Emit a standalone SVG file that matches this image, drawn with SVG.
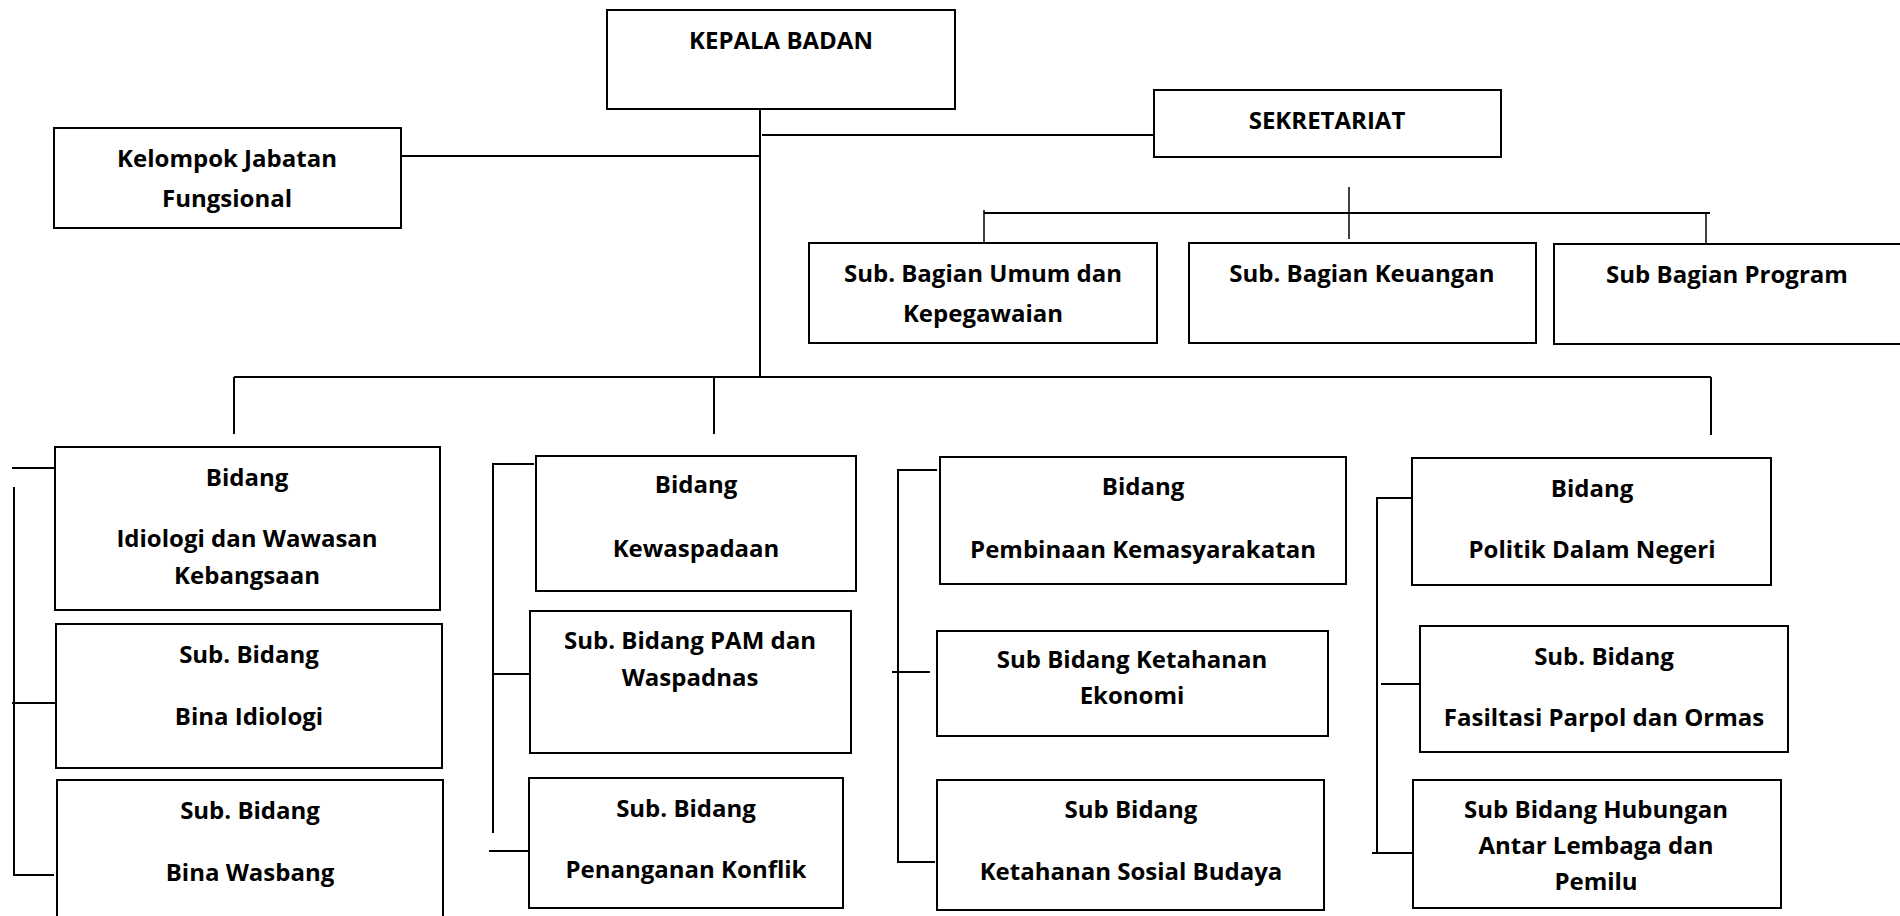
<svg xmlns="http://www.w3.org/2000/svg" width="1900" height="916" viewBox="0 0 1900 916">
<style>
.box{fill:#fff;stroke:#000;stroke-width:2}
.ln{stroke:#000;stroke-width:2;fill:none}
.thin{stroke:#000;stroke-width:1.5;fill:none}
.t{font-family:"Open Sans","Liberation Sans",sans-serif;font-weight:700;font-size:24px;text-anchor:middle;fill:#000}
</style>
<rect width="1900" height="916" fill="#fff"/>
<g id="connectors">
<path class="ln" d="M760 108 V378"/>
<path class="ln" d="M401 156 H761"/>
<path class="ln" d="M762 135 H1158"/>
<path class="thin" d="M1349 187 V239"/>
<path class="ln" d="M984 213 H1710"/>
<path class="thin" d="M984 210 V243"/>
<path class="thin" d="M1706 213 V243"/>
<path class="ln" d="M234 377 H1711"/>
<path class="ln" d="M234 377 V434"/>
<path class="ln" d="M714 377 V434"/>
<path class="ln" d="M1711 377 V435"/>
<path class="ln" d="M12 468 H59"/>
<path class="ln" d="M14 487 V875 H54"/>
<path class="ln" d="M12 703 H55"/>
<path class="ln" d="M534 464 H493 V833"/>
<path class="ln" d="M494 674 H531"/>
<path class="ln" d="M489 851 H528"/>
<path class="ln" d="M937 470 H898 V862 H935"/>
<path class="ln" d="M892 672 H930"/>
<path class="ln" d="M1412 498 H1377 V853"/>
<path class="ln" d="M1381 684 H1420"/>
<path class="ln" d="M1372 853 H1412"/>
</g>
<g id="kepala"><rect class="box" x="607" y="10" width="348" height="99"/><text class="t" x="781" y="49">KEPALA BADAN</text></g>
<g id="kelompok"><rect class="box" x="54" y="128" width="347" height="100"/><text class="t" x="227" y="167">Kelompok Jabatan</text><text class="t" x="227" y="207">Fungsional</text></g>
<g id="sekretariat"><rect class="box" x="1154" y="90" width="347" height="67"/><text class="t" x="1327" y="129">SEKRETARIAT</text></g>
<g id="umum"><rect class="box" x="809" y="243" width="348" height="100"/><text class="t" x="983" y="282">Sub. Bagian Umum dan</text><text class="t" x="983" y="322">Kepegawaian</text></g>
<g id="keuangan"><rect class="box" x="1189" y="243" width="347" height="100"/><text class="t" x="1362" y="282">Sub. Bagian Keuangan</text></g>
<g id="program"><rect class="box" x="1554" y="244" width="360" height="100"/><text class="t" x="1727" y="283">Sub Bagian Program</text></g>
<g id="bidang-idiologi"><rect class="box" x="55" y="447" width="385" height="163"/><text class="t" x="247" y="486">Bidang</text><text class="t" x="247" y="547">Idiologi dan Wawasan</text><text class="t" x="247" y="584">Kebangsaan</text></g>
<g id="sub-bina-idiologi"><rect class="box" x="56" y="624" width="386" height="144"/><text class="t" x="249" y="663">Sub. Bidang</text><text class="t" x="249" y="725">Bina Idiologi</text></g>
<g id="sub-bina-wasbang"><rect class="box" x="57" y="780" width="386" height="150"/><text class="t" x="250" y="819">Sub. Bidang</text><text class="t" x="250" y="881">Bina Wasbang</text></g>
<g id="bidang-kewaspadaan"><rect class="box" x="536" y="456" width="320" height="135"/><text class="t" x="696" y="493">Bidang</text><text class="t" x="696" y="557">Kewaspadaan</text></g>
<g id="sub-pam"><rect class="box" x="530" y="611" width="321" height="142"/><text class="t" x="690" y="649">Sub. Bidang PAM dan</text><text class="t" x="690" y="686">Waspadnas</text></g>
<g id="sub-konflik"><rect class="box" x="529" y="778" width="314" height="130"/><text class="t" x="686" y="817">Sub. Bidang</text><text class="t" x="686" y="878">Penanganan Konflik</text></g>
<g id="bidang-pembinaan"><rect class="box" x="940" y="457" width="406" height="127"/><text class="t" x="1143" y="495">Bidang</text><text class="t" x="1143" y="558">Pembinaan Kemasyarakatan</text></g>
<g id="sub-ekonomi"><rect class="box" x="937" y="631" width="391" height="105"/><text class="t" x="1132" y="668">Sub Bidang Ketahanan</text><text class="t" x="1132" y="704">Ekonomi</text></g>
<g id="sub-sosial"><rect class="box" x="937" y="780" width="387" height="130"/><text class="t" x="1131" y="818">Sub Bidang</text><text class="t" x="1131" y="880">Ketahanan Sosial Budaya</text></g>
<g id="bidang-politik"><rect class="box" x="1412" y="458" width="359" height="127"/><text class="t" x="1592" y="497">Bidang</text><text class="t" x="1592" y="558">Politik Dalam Negeri</text></g>
<g id="sub-parpol"><rect class="box" x="1420" y="626" width="368" height="126"/><text class="t" x="1604" y="665">Sub. Bidang</text><text class="t" x="1604" y="726">Fasiltasi Parpol dan Ormas</text></g>
<g id="sub-hubungan"><rect class="box" x="1413" y="780" width="368" height="128"/><text class="t" x="1596" y="818">Sub Bidang Hubungan</text><text class="t" x="1596" y="854">Antar Lembaga dan</text><text class="t" x="1596" y="890">Pemilu</text></g>
</svg>
